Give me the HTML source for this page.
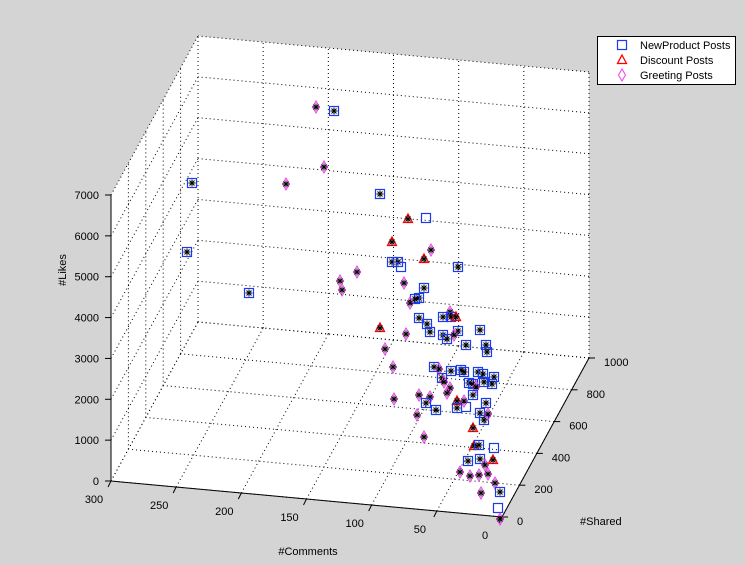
<!DOCTYPE html>
<html><head><meta charset="utf-8">
<style>
html,body{margin:0;padding:0;background:#d4d4d4;}
svg{display:block;font-family:"Liberation Sans",Arial,sans-serif;font-size:11px;}
</style></head>
<body>
<svg id="s" width="745" height="565" xmlns="http://www.w3.org/2000/svg"></svg>
<script>
const S=document.getElementById('s');
const NS='http://www.w3.org/2000/svg';
function el(t,a,txt){const e=document.createElementNS(NS,t);for(const k in a)e.setAttribute(k,a[k]);if(txt!==undefined)e.textContent=txt;S.appendChild(e);return e;}
function P(c,s,l){return [502+c/300*(-391)+s/1000*(87),517+c/300*(-36)+s/1000*(-159)+l/7000*(-286)];}
function line(a,b,dot){el('line',{x1:a[0],y1:a[1],x2:b[0],y2:b[1],stroke:'#000','stroke-width':1,'stroke-dasharray':dot?'1,3':'none'});}
const pts=[P(300,0,0),P(0,0,0),P(0,1000,0),P(0,1000,7000),P(300,1000,7000),P(300,0,7000)];
el('polygon',{points:pts.map(p=>p.join(',')).join(' '),fill:'#fff'});
for(let c=0;c<=300;c+=50){line(P(c,0,0),P(c,1000,0),1);line(P(c,1000,0),P(c,1000,7000),1);}
for(let s=0;s<=1000;s+=200){line(P(0,s,0),P(300,s,0),1);line(P(300,s,0),P(300,s,7000),1);}
for(let l=0;l<=7000;l+=1000){line(P(0,1000,l),P(300,1000,l),1);line(P(300,0,l),P(300,1000,l),1);}
line(P(300,0,0),P(0,0,0));line(P(0,0,0),P(0,1000,0));line(P(300,0,0),P(300,0,7000));
for(let l=0;l<=7000;l+=1000){const p=P(300,0,l);line(p,[p[0]-6,p[1]]);el('text',{x:p[0]-12,y:p[1]+4,'text-anchor':'end'},l);}
for(let c=0;c<=300;c+=50){const p=P(c,0,0);line(p,[p[0]-3,p[1]+6]);el('text',{x:p[0]-17,y:p[1]+22,'text-anchor':'middle'},c);}
for(let s=0;s<=1000;s+=200){const p=P(0,s,0);line(p,[p[0]+6,p[1]]);el('text',{x:p[0]+15,y:p[1]+8},s);}
el('text',{x:308,y:555,'text-anchor':'middle'},'#Comments');
el('text',{x:580,y:525},'#Shared');
el('text',{x:0,y:0,transform:'translate(66,270) rotate(-90)','text-anchor':'middle'},'#Likes');
function ast(x,y){const r=3.5;
 el('path',{d:`M${x-r},${y}H${x+r}M${x},${y-r}V${y+r}M${x-2.5},${y-2.5}L${x+2.5},${y+2.5}M${x-2.5},${y+2.5}L${x+2.5},${y-2.5}`,stroke:'#000','stroke-width':1});}
function sq(x,y){el('rect',{x:x-4.5,y:y-4.5,width:9,height:9,fill:'none',stroke:'#1a3cf0','stroke-width':1.2});}
function di(x,y){el('path',{d:`M${x},${y-6}L${x+3.5},${y}L${x},${y+6}L${x-3.5},${y}Z`,fill:'none',stroke:'#f03cf0','stroke-width':1});}
function tr(x,y){el('path',{d:`M${x},${y-5}L${x+4.5},${y+3.5}L${x-4.5},${y+3.5}Z`,fill:'none',stroke:'#f00','stroke-width':1.3});}
const D=[
['d',316,107],['s',334,111],['d',324,167],['d',286,184],['s',192,183],['s',380,194],['t',392,242],['s',187,252],
['s',392,262],['s',398,262],['d',357,272],['d',340,281],['d',342,290],['s',249,293],['t',380,328],['d',385,349],
['t',408,219],['e',426,218],['d',431,250],['t',424,259],['e',401,267],['s',458,267],['d',404,283],['s',424,288],
['s',419,298],['s',415,299],['d',410,303],['s',419,318],['s',427,324],['s',430,332],['s',443,335],['s',447,339],
['s',443,317],['d',450,312],['s',451,317],['t',456,317],['s',458,331],['d',454,335],['s',466,345],['s',480,330],
['s',486,345],['d',406,334],['s',487,352],['s',434,367],['d',439,369],['s',451,371],['s',461,370],['s',464,372],
['s',478,372],['s',483,374],['s',494,377],['s',492,384],['s',484,382],['s',469,383],['s',473,384],['d',476,387],
['s',442,378],['d',444,382],['d',450,388],['d',447,393],['d',419,395],['d',430,397],['s',426,403],['s',436,410],
['d',394,399],['d',417,415],['t',457,401],['s',457,408],['e',466,407],['d',464,401],['s',473,395],['s',486,403],
['s',480,413],['s',484,420],['d',488,414],['d',424,437],['t',473,428],['t',474,446],['s',479,445],['e',494,448],
['s',480,459],['s',468,461],['t',493,460],['d',485,465],['d',460,472],['d',470,476],['d',479,475],['d',488,474],
['d',495,483],['s',500,492],['d',481,493],['e',498,508],['d',500,519],['d',393,367]];
for(const [t,x,y] of D){
 if(t==='s'){sq(x,y);ast(x,y);}
 else if(t==='e'){sq(x,y);}
 else if(t==='d'){di(x,y);ast(x,y);}
 else if(t==='t'){tr(x,y);ast(x,y);}
}
el('rect',{x:597.5,y:36.5,width:138,height:48,fill:'#fff',stroke:'#000','stroke-width':1});
sq(622,45);tr(622,60);di(622,75);
el('text',{x:640,y:49},'NewProduct Posts');
el('text',{x:640,y:64},'Discount Posts');
el('text',{x:640,y:79},'Greeting Posts');
</script>
</body></html>
